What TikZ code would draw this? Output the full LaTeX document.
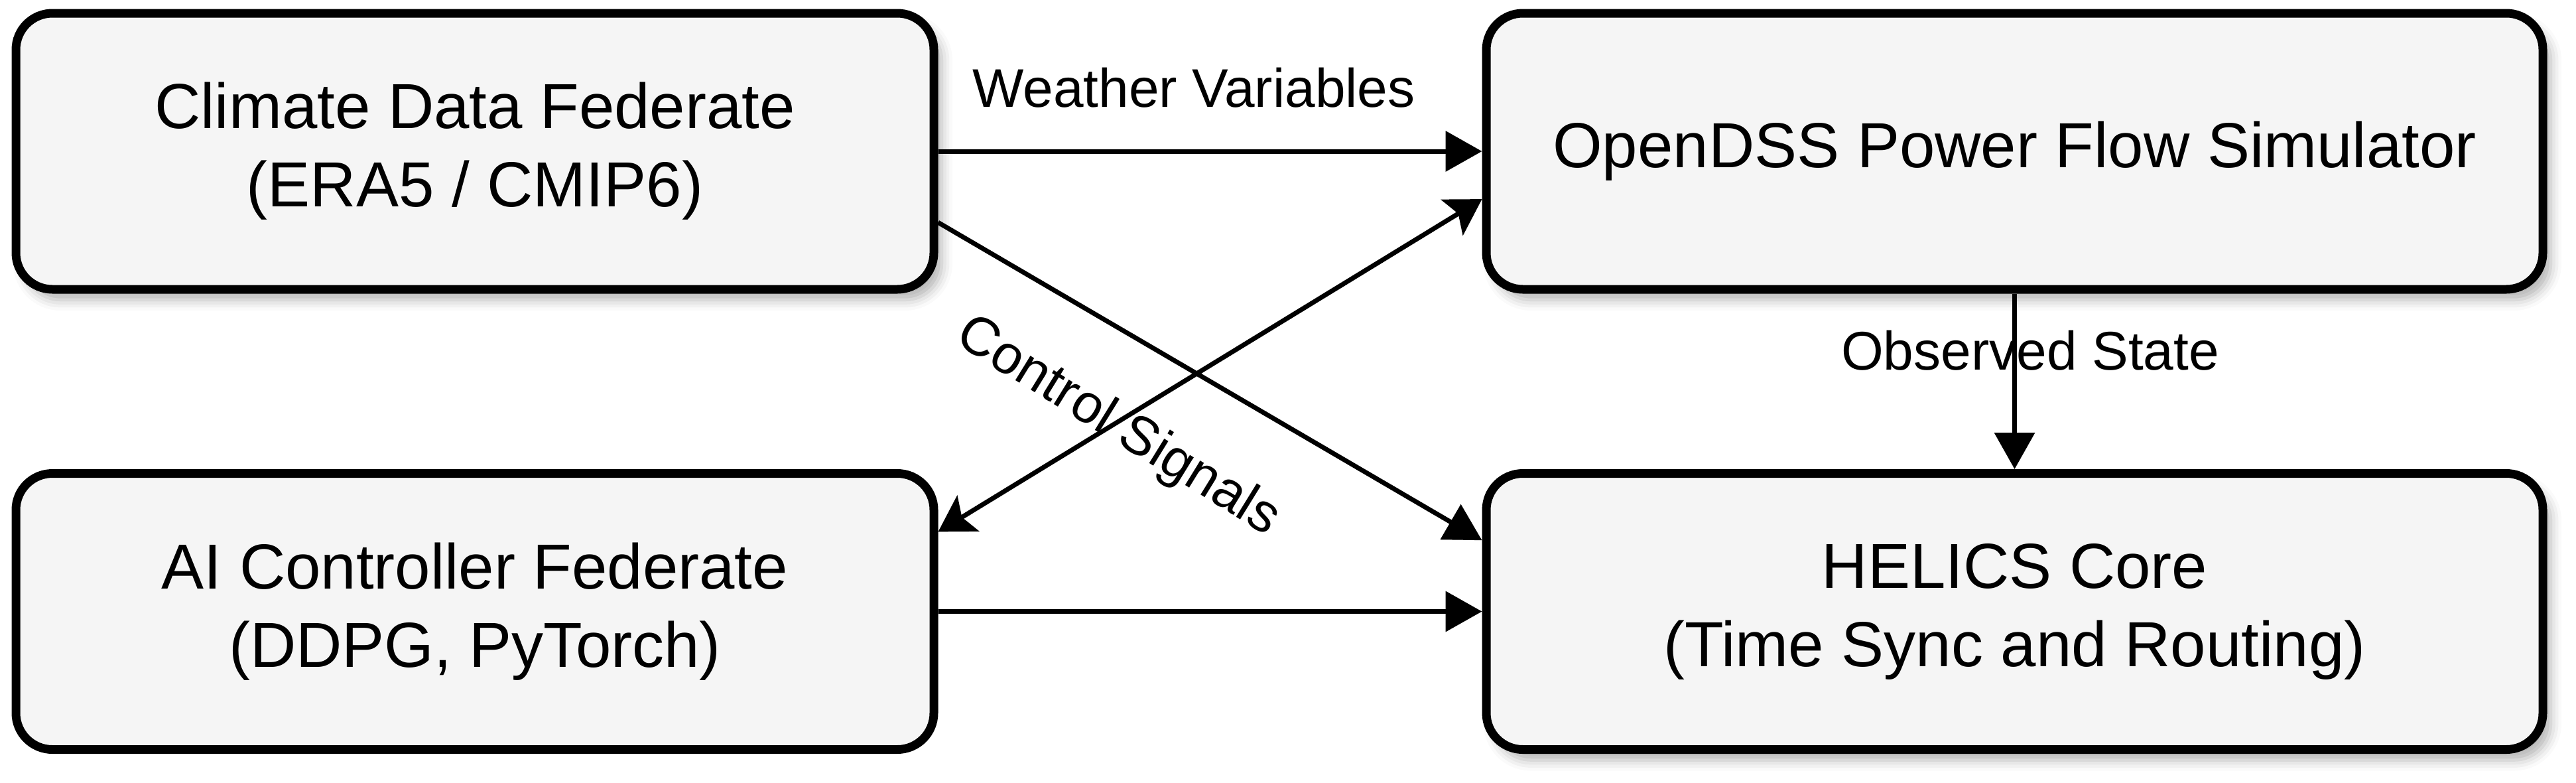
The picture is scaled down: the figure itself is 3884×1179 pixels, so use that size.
\documentclass[tikz,border=0pt]{standalone}
\usepackage{fontspec}
\setmainfont{Liberation Sans}
\usetikzlibrary{arrows.meta,shadows.blur,calc}
\definecolor{boxfill}{HTML}{F5F5F5}
\begin{document}
\begin{tikzpicture}[x=0.25pt,y=-0.25pt,
  fed/.style={draw=black, line width=3.25pt, fill=boxfill, rounded corners=13.75pt,
    inner sep=0pt, minimum height=104pt, align=center,
    font=\fontsize{24}{29.5}\selectfont},
  shad/.style={blur shadow={shadow xshift=3pt, shadow yshift=-4pt,
    shadow blur radius=4pt, shadow opacity=30}},
  conn/.style={line width=1.75pt, -{Triangle[length=13.75pt,width=15pt]}},
  conn2/.style={line width=1.75pt,
    {Stealth[length=13.25pt,width=15.75pt,inset=2.75pt]}-{Stealth[length=13.25pt,width=15.75pt,inset=2.75pt]}},
  lbl/.style={font=\fontsize{20.5}{24}\selectfont, inner sep=0pt}]
\useasboundingbox (0,0) rectangle (3884,1179);

\node[fed, shad, minimum width=346pt] (climate) at (716,228)
  {Climate Data Federate\\(ERA5 / CMIP6)};
\node[fed, shad, minimum width=398.25pt] (opendss) at (3037.5,228)
  {OpenDSS Power Flow Simulator};
\node[fed, minimum width=346pt] (ai) at (716,921.5)
  {AI Controller Federate\\(DDPG, PyTorch)};
\node[fed, shad, minimum width=398.25pt] (helics) at (3037.5,921.5)
  {HELICS Core\\(Time Sync and Routing)};

% connector end points
\coordinate (cOut) at ($(climate.north east)!0.75!(climate.south east)$);
\coordinate (hIn) at ($(helics.north west)!0.25!(helics.south west)$);
\coordinate (aEnd) at ($(ai.north east)!0.22!(ai.south east)$);
\coordinate (oEnd) at ($(opendss.north west)!0.668!(opendss.south west)$);

\draw[conn] (climate.east) -- (opendss.west);
\draw[conn] (cOut) -- (hIn);
\draw[conn2] (aEnd) -- (oEnd);
\draw[conn] (ai.east) -- (helics.west);
\draw[conn] (opendss.south) -- (helics.north);

% labels
\node[lbl, anchor=base] (lw) at (1800,161) {Weather Variables};
\node[lbl, anchor=base] (lo) at (3061,557) {Observed State};
\node[lbl, rotate=-31.7] (lc) at ($(aEnd)!0.33!(oEnd)+(0,8)$) {Control Signals};
\end{tikzpicture}
\end{document}
